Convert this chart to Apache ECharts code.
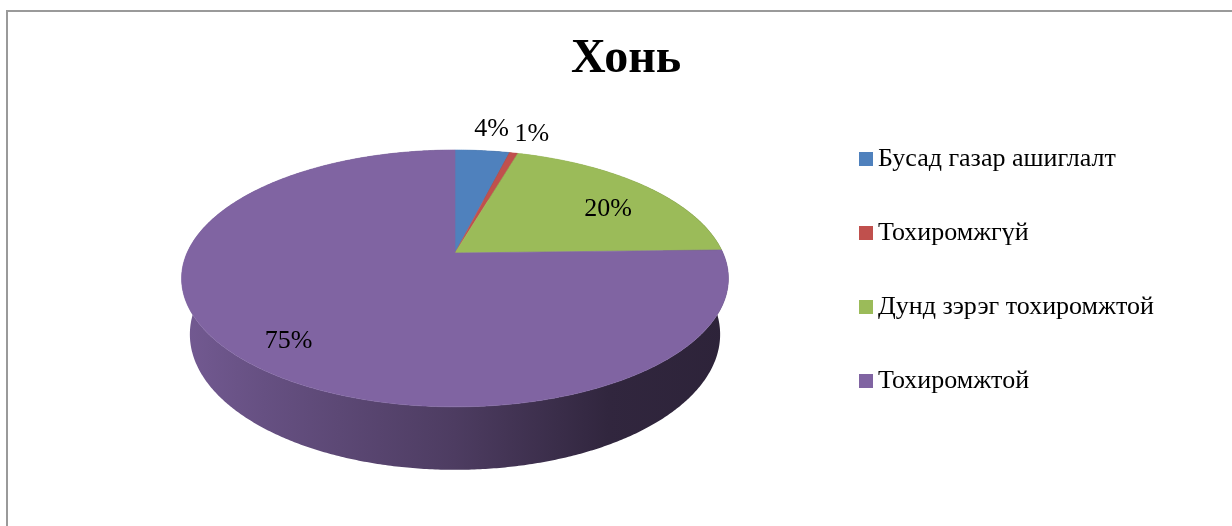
<!DOCTYPE html>
<html>
<head>
<meta charset="utf-8">
<title>Хонь</title>
<script src="https://cdn.jsdelivr.net/npm/echarts@6/dist/echarts.min.js"></script>
<style>
  html, body { margin: 0; padding: 0; background: #fff; }
  #chart { width: 1232px; height: 526px; }
</style>
</head>
<body>
<div id="chart"></div>
<script>
  var chartTitle = 'Хонь'
  var categories = ['Бусад газар ашиглалт', 'Тохиромжгүй', 'Дунд зэрэг тохиромжтой', 'Тохиромжтой']
  var values = [3.9, 0.6, 20.1, 75.4]
  var colors = ['#4f81bd', '#c0504d', '#9bbb59', '#8064a2']

  // tilted disc seen in perspective (Excel style 3d pie)
  var view = { cx: 455, cy: 253, kx: 268, ky: 123.4, p: 0.198, q: 0.03, depth: 57 }
  var labelFont = { fontFamily: 'Liberation Serif', fontSize: 26 }

  var total = values.reduce(function (a, b) { return a + b }, 0)
  var starts = []
  var acc = 0
  values.forEach(function (v) { starts.push(acc); acc += v })

  function proj(ang, r, z) {
    var u = Math.sin(ang) * r, v = Math.cos(ang) * r
    var w = 1 + view.p * v + view.q * z
    return [view.cx + view.kx * u / w, view.cy + (-view.ky * v + view.depth * z) / w]
  }

  function arc(a0, a1, z) {
    var pts = []
    var n = Math.max(2, Math.ceil((a1 - a0) / (Math.PI / 360)))
    for (var i = 0; i <= n; i++) {
      pts.push(proj(a0 + (a1 - a0) * i / n, 1, z))
    }
    return pts
  }

  function shade(hex, f) {
    var c = echarts.color.parse(hex)
    return 'rgb(' + Math.round(c[0] * f) + ',' + Math.round(c[1] * f) + ',' + Math.round(c[2] * f) + ')'
  }

  function renderSlice(params, api) {
    var a0 = api.value(0) / total * Math.PI * 2
    var a1 = api.value(1) / total * Math.PI * 2
    var share = api.value(2) / total
    var color = api.visual('color')

    var topArc = arc(a0, a1, 0)
    var wallPts = topArc.concat(arc(a0, a1, 1).reverse())
    var facePts = [proj(0, 0, 0)].concat(topArc)

    // label: inside for big slices, outside above the rim for small ones
    var mid = (a0 + a1) / 2
    var lx, ly
    if (share < 0.05) {
      var rim = proj(mid, 1, 0)
      var c0 = proj(0, 0, 0)
      var dx = rim[0] - c0[0], dy = rim[1] - c0[1]
      var len = Math.sqrt(dx * dx + dy * dy)
      lx = rim[0] + dx / len * 36
      ly = rim[1] + dy / len * 22
    } else {
      var pt = proj(mid, 0.79, 0)
      lx = pt[0]
      ly = pt[1] + 10
    }

    return {
      type: 'group',
      children: [
        {
          type: 'polygon',
          z2: 1,
          shape: { points: wallPts },
          style: {
            fill: new echarts.graphic.LinearGradient(0, 0, 1, 0, [
              { offset: 0, color: shade(color, 0.9) },
              { offset: 0.15, color: shade(color, 0.8) },
              { offset: 0.5, color: shade(color, 0.6) },
              { offset: 0.78, color: shade(color, 0.38) },
              { offset: 1, color: shade(color, 0.35) }
            ])
          }
        },
        {
          type: 'polygon',
          z2: 5,
          shape: { points: facePts },
          style: { fill: color, stroke: color, lineWidth: 0.6 }
        },
        {
          type: 'text',
          z2: 10,
          style: {
            text: Math.round(share * 100) + '%',
            x: lx,
            y: ly,
            align: 'center',
            verticalAlign: 'middle',
            fill: '#000',
            fontFamily: labelFont.fontFamily,
            fontSize: labelFont.fontSize
          }
        }
      ]
    }
  }

  var myChart = echarts.init(document.getElementById('chart'))
  var option = {
    backgroundColor: '#fff',
    animation: false,
    title: {
      text: chartTitle,
      left: 566,
      top: 31,
      textStyle: { fontFamily: 'Liberation Serif', fontSize: 48, fontWeight: 'bold', color: '#000' }
    },
    legend: {
      orient: 'vertical',
      left: 854,
      top: 139,
      itemWidth: 14,
      itemHeight: 14,
      itemGap: 44,
      icon: 'rect',
      selectedMode: false,
      data: categories,
      textStyle: { fontFamily: 'Liberation Serif', fontSize: 26, color: '#000', lineHeight: 30 }
    },
    graphic: [
      {
        type: 'rect',
        silent: true,
        shape: { x: 7, y: 11, width: 1300, height: 600 },
        style: { fill: 'none', stroke: '#9a9a9a', lineWidth: 2 }
      }
    ],
    series: categories.map(function (name, i) {
      return {
        type: 'custom',
        name: name,
        coordinateSystem: 'none',
        silent: true,
        itemStyle: { color: colors[i] },
        data: [[starts[i], starts[i] + values[i], values[i]]],
        renderItem: renderSlice
      }
    })
  }
  myChart.setOption(option)
</script>
</body>
</html>
